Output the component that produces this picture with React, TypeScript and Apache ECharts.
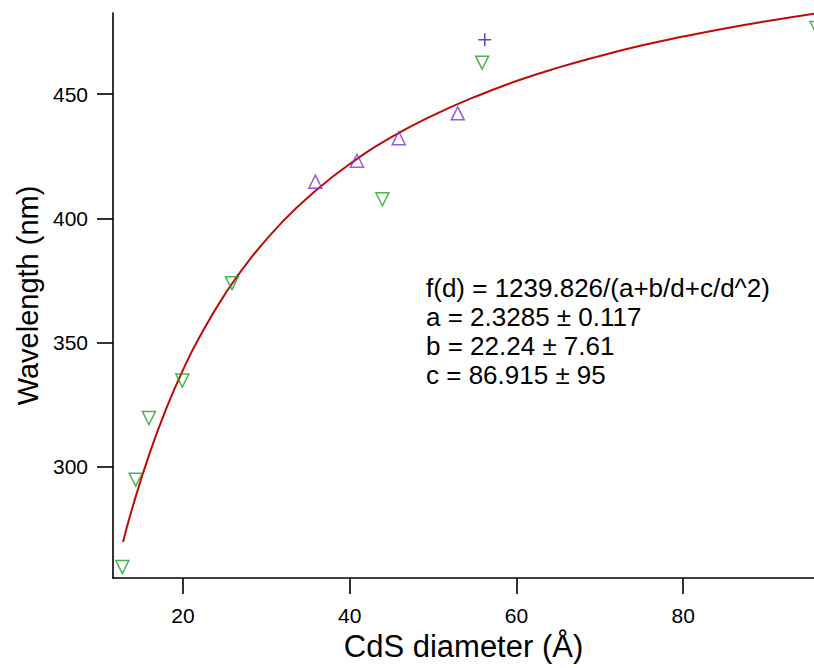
import React, { useEffect, useRef } from "react";
import * as echarts from "echarts";

// Green open down-triangles
const greenX = [12.72, 14.32, 15.91, 19.92, 25.87, 43.92, 55.88, 96.0];
const greenY = [259.6, 294.8, 319.6, 334.7, 373.9, 407.7, 462.7, 476.7];
// Purple open up-triangles
const purpleX = [35.88, 40.87, 45.88, 52.96];
const purpleY = [414.8, 423.2, 432.3, 442.3];
// Blue plus
const blueX = [56.2];
const blueY = [471.9];
// Fitted curve
const fitX = [12.8, 14, 16, 18, 20, 22, 25, 28, 32, 36, 40, 45, 50, 55, 60, 65, 70, 75, 80, 85, 90, 95.7];
const fitY = [269.7, 284.3, 305.5, 323.5, 339.0, 352.3, 369.3, 383.4, 398.9, 411.4, 421.9, 432.7, 441.5, 448.9, 455.3, 460.7, 465.4, 469.6, 473.2, 476.5, 479.4, 482.4];

const xTicks = [20, 40, 60, 80];
const yTicks = [300, 350, 400, 450];

const annotationLines = [
  "f(d) = 1239.826/(a+b/d+c/d^2)",
  "a = 2.3285 ± 0.117",
  "b = 22.24 ± 7.61",
  "c = 86.915 ± 95",
];

const FONT = "'Liberation Sans', Arial, Helvetica, sans-serif";

const zip = (xs: number[], ys: number[]) => xs.map((x, i) => [x, ys[i]]);

export default function App() {
  const ref = useRef<HTMLDivElement>(null);
  useEffect(() => {
    if (!ref.current) return;
    const chart = echarts.init(ref.current, null, { renderer: "svg" });
    const axisCommon = {
      type: "value" as const,
      splitLine: { show: false },
      axisLine: { show: true, onZero: false, lineStyle: { color: "#000", width: 1.6 } },
      axisTick: { show: true, inside: false, length: 16, lineStyle: { color: "#000", width: 1.6 } },
      nameLocation: "middle" as const,
    };
    chart.setOption({
      animation: false,
      backgroundColor: "#fff",
      grid: { left: 113, right: 0, top: 13, bottom: 90, containLabel: false },
      xAxis: {
        ...axisCommon,
        min: 11.6,
        max: 95.7,
        name: "CdS diameter (Å)",
        nameGap: 50,
        nameTextStyle: { color: "#000", fontFamily: FONT, fontSize: 31 },
        axisTick: { ...axisCommon.axisTick, customValues: xTicks },
        axisLabel: { customValues: xTicks, color: "#000", fontFamily: FONT, fontSize: 21, margin: 27 },
      },
      yAxis: {
        ...axisCommon,
        min: 255.2,
        max: 482.7,
        name: "Wavelength (nm)",
        nameGap: 66,
        nameTextStyle: { color: "#000", fontFamily: FONT, fontSize: 29 },
        axisTick: { ...axisCommon.axisTick, customValues: yTicks },
        axisLabel: { customValues: yTicks, color: "#000", fontFamily: FONT, fontSize: 21, margin: 25 },
      },
      series: [
        {
          type: "line",
          data: zip(fitX, fitY),
          smooth: true,
          showSymbol: false,
          symbol: "none",
          clip: false,
          lineStyle: { color: "#c00a0a", width: 2 },
          z: 1,
        },
        {
          type: "scatter",
          data: zip(greenX, greenY),
          symbol: "triangle",
          symbolRotate: 180,
          symbolSize: 13,
          clip: false,
          itemStyle: { color: "rgba(0,0,0,0)", borderColor: "#22a022", borderWidth: 1.5 },
          z: 2,
        },
        {
          type: "scatter",
          data: zip(purpleX, purpleY),
          symbol: "triangle",
          symbolSize: 13,
          clip: false,
          itemStyle: { color: "rgba(0,0,0,0)", borderColor: "#8030d8", borderWidth: 1.5 },
          z: 2,
        },
        {
          type: "scatter",
          data: zip(blueX, blueY),
          symbol: "path://M0,6 L12,6 M6,0 L6,12",
          symbolSize: 13,
          clip: false,
          itemStyle: { color: "rgba(0,0,0,0)", borderColor: "#2222b0", borderWidth: 1.5 },
          z: 2,
        },
      ],
      graphic: [
        {
          type: "text",
          left: 426,
          top: 273,
          style: {
            text: annotationLines.join("\n"),
            fill: "#000",
            font: `26px ${FONT}`,
            lineHeight: 29,
          },
        },
      ],
    });
    return () => chart.dispose();
  }, []);
  return (
    <div
      ref={ref}
      style={{ position: "absolute", left: 0, top: 0, width: 814, height: 668, background: "#fff" }}
    />
  );
}
